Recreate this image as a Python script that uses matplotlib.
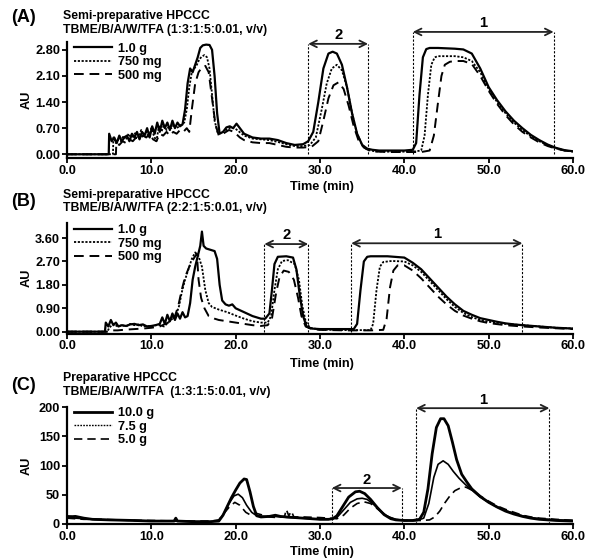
import matplotlib
matplotlib.use("Agg")
import matplotlib.pyplot as plt

plt.rcParams['font.family'] = ['Liberation Sans', 'DejaVu Sans']
plt.rcParams['font.weight'] = 'bold'

# ---------------- Panel A data ----------------
a_t_10 = [0, 4.95, 5.0, 5.3, 5.6, 5.9, 6.2, 6.5, 6.8, 7.1, 7.4, 7.7, 8.0, 8.3, 8.6, 8.9, 9.2, 9.5, 9.8,
          10.1, 10.4, 10.7, 11.0, 11.3, 11.6, 11.9, 12.2, 12.5, 12.8, 13.1, 13.4, 13.7, 14.0, 14.3, 14.6,
          14.9, 15.2, 15.5, 15.8, 16.1, 16.5, 16.9, 17.2, 17.5, 17.8, 18.1, 18.5, 18.9, 19.3, 19.7, 20.1,
          20.5, 21.0, 22.0, 23.0, 24.0, 25.0, 26.0, 27.0, 28.0, 28.6, 29.2, 29.8, 30.4, 31.0, 31.5, 32.0,
          32.6, 33.2, 33.8, 34.4, 35.0, 35.6, 36.2, 37.0, 38.0, 39.0, 40.0, 41.0, 41.4, 41.8, 42.2, 42.6,
          43.0, 44.0, 45.0, 46.0, 47.0, 48.0, 49.0, 50.0, 51.0, 52.0, 53.0, 54.0, 55.0, 56.0, 57.0, 58.0,
          59.0, 60.0]
a_v_10 = [0.0, 0.0, 0.55, 0.35, 0.45, 0.3, 0.5, 0.35, 0.45, 0.5, 0.35, 0.55, 0.45, 0.6, 0.4, 0.6, 0.5, 0.7, 0.45,
          0.75, 0.55, 0.85, 0.6, 0.9, 0.7, 0.85, 0.65, 0.9, 0.7, 0.85, 0.75, 0.8, 1.2, 1.9, 2.3,
          2.2, 2.4, 2.6, 2.85, 2.92, 2.94, 2.93, 2.8, 2.1, 1.1, 0.55, 0.6, 0.72, 0.75, 0.7, 0.82,
          0.7, 0.55, 0.45, 0.42, 0.42, 0.38, 0.3, 0.25, 0.27, 0.35, 0.6, 1.4, 2.3, 2.7, 2.75, 2.7,
          2.4, 1.8, 1.1, 0.55, 0.25, 0.15, 0.12, 0.1, 0.1, 0.1, 0.1, 0.12, 0.3, 1.6, 2.6, 2.82,
          2.85, 2.85, 2.84, 2.83, 2.81, 2.7, 2.3, 1.8, 1.45, 1.15, 0.9, 0.7, 0.52, 0.38, 0.26, 0.17,
          0.11, 0.08]

a_t_75 = [0, 5.45, 5.5, 5.8, 6.1, 6.4, 6.7, 7.0, 7.3, 7.6, 7.9, 8.2, 8.5, 8.8, 9.1, 9.4, 9.7, 10.0, 10.3,
          10.6, 10.9, 11.2, 11.5, 11.8, 12.1, 12.4, 12.7, 13.0, 13.3, 13.6, 13.9, 14.2, 14.5, 14.8, 15.1,
          15.4, 15.7, 16.0, 16.3, 16.6, 16.9, 17.2, 17.5, 17.9, 18.5, 19.4, 20.0, 21.0, 22.0, 23.0, 24.0,
          25.0, 26.0, 27.0, 28.0, 28.8, 29.5, 30.2, 30.8, 31.4, 32.0, 32.6, 33.2, 33.8, 34.4, 35.0, 35.6,
          36.5, 38.0, 40.0, 41.0, 42.0, 42.4, 42.8, 43.2, 43.6, 44.0, 46.0, 47.0, 48.0, 49.0, 50.0, 51.0,
          52.0, 53.0, 54.0, 55.0, 56.0, 57.0, 58.0, 59.0, 60.0]
a_v_75 = [0.0, 0.0, 0.45, 0.3, 0.4, 0.35, 0.5, 0.4, 0.55, 0.45, 0.5, 0.6, 0.45, 0.65, 0.5, 0.6, 0.45, 0.7, 0.5,
          0.35, 0.75, 0.6, 0.8, 0.65, 0.75, 0.7, 0.8, 0.7, 0.75, 0.8, 0.85, 1.2, 1.8, 2.2, 2.3,
          2.4, 2.55, 2.62, 2.66, 2.6, 2.3, 1.6, 0.9, 0.55, 0.6, 0.72, 0.68, 0.5, 0.42, 0.4, 0.38,
          0.33, 0.27, 0.22, 0.22, 0.25, 0.45, 1.2, 1.9, 2.3, 2.4, 2.25, 1.8, 1.1, 0.55, 0.25, 0.12,
          0.08, 0.07, 0.07, 0.07, 0.1, 0.5, 1.6, 2.4, 2.6, 2.63, 2.63, 2.6, 2.5, 2.2, 1.75, 1.4,
          1.1, 0.85, 0.65, 0.48, 0.35, 0.24, 0.16, 0.1, 0.07]

a_t_50 = [0, 5.8, 5.85, 6.2, 6.6, 7.0, 7.4, 7.8, 8.2, 8.6, 9.0, 9.4, 9.8, 10.2, 10.6, 11.0, 11.4, 11.8, 12.2,
          12.6, 13.0, 13.4, 13.8, 14.2, 14.5, 14.8, 15.2, 15.6, 16.0, 16.4, 16.8, 17.2, 17.6, 18.0, 18.5,
          19.2, 19.8, 20.5, 21.0, 22.0, 23.0, 24.0, 25.0, 26.0, 27.0, 28.0, 29.0, 29.8, 30.4, 31.0, 31.6,
          32.2, 32.8, 33.4, 34.0, 34.6, 35.2, 36.0, 38.0, 40.0, 42.0, 43.0, 43.5, 44.0, 44.4, 44.8, 45.4,
          46.0, 47.0, 48.0, 49.0, 50.0, 51.0, 52.0, 53.0, 54.0, 55.0, 56.0, 57.0, 58.0, 59.0, 60.0]
a_v_50 = [0.0, 0.0, 0.3, 0.25, 0.35, 0.3, 0.4, 0.35, 0.45, 0.4, 0.5, 0.45, 0.55, 0.4, 0.35, 0.55, 0.5, 0.6, 0.5,
          0.6, 0.55, 0.65, 0.6, 0.7, 0.6, 1.2, 1.9, 2.2, 2.33, 2.37, 2.2, 1.5, 0.8, 0.5, 0.55,
          0.65, 0.6, 0.45, 0.38, 0.32, 0.3, 0.3, 0.25, 0.2, 0.18, 0.18, 0.2, 0.35, 0.9, 1.5, 1.85,
          1.93, 1.75, 1.3, 0.75, 0.35, 0.18, 0.08, 0.06, 0.06, 0.06, 0.1, 0.5, 1.4, 2.1, 2.4, 2.48,
          2.5, 2.5, 2.42, 2.1, 1.7, 1.35, 1.05, 0.8, 0.6, 0.45, 0.32, 0.22, 0.15, 0.1, 0.07]

# ---------------- Panel B data ----------------
b_t_10 = [0, 4.5, 4.6, 4.9, 5.2, 5.5, 5.8, 6.1, 6.5, 7.0, 7.5, 8.0, 8.5, 9.0, 9.5, 10.0, 10.5, 11.0, 11.3,
          11.6, 11.9, 12.2, 12.5, 12.8, 13.1, 13.4, 13.7, 14.0, 14.3, 14.6, 14.9, 15.2, 15.5, 15.8, 16.0,
          16.2, 16.5, 17.0, 17.5, 17.8, 18.1, 18.4, 18.8, 19.2, 19.6, 20.0, 21.0, 22.0, 23.0, 23.5, 24.0,
          24.3, 24.6, 25.0, 26.0, 26.8, 27.2, 27.6, 28.0, 28.4, 29.0, 30.0, 32.0, 34.0, 34.4, 34.8, 35.2,
          35.6, 36.0, 38.0, 40.0, 41.0, 42.0, 43.0, 44.0, 45.0, 46.0, 47.0, 48.0, 49.0, 50.0, 51.0, 52.0,
          53.0, 54.0, 56.0, 58.0, 60.0]
b_v_10 = [0.0, 0.0, 0.35, 0.2, 0.45, 0.25, 0.35, 0.2, 0.25, 0.22, 0.28, 0.3, 0.25, 0.28, 0.2, 0.22, 0.25, 0.3, 0.55,
          0.3, 0.65, 0.4, 0.7, 0.45, 0.7, 0.5, 0.75, 0.55, 0.6, 1.1, 2.0, 2.5, 2.9, 3.3, 3.85,
          3.3, 3.2, 3.15, 3.1, 2.8, 1.8, 1.2, 1.05, 1.0, 1.05, 0.9, 0.75, 0.6, 0.5, 0.5, 0.7,
          1.6, 2.6, 2.88, 2.9, 2.85, 2.4, 1.4, 0.6, 0.2, 0.12, 0.1, 0.1, 0.1, 0.3, 1.6, 2.7,
          2.88, 2.9, 2.9, 2.85, 2.65, 2.4, 2.05, 1.7, 1.35, 1.05, 0.8, 0.65, 0.52, 0.45, 0.38, 0.32,
          0.28, 0.25, 0.2, 0.15, 0.12]

b_t_75 = [0, 4.8, 5.0, 5.5, 6.0, 6.5, 7.0, 7.5, 8.0, 8.5, 9.0, 9.5, 10.0, 10.5, 11.0, 11.5, 12.0, 12.5, 13.0,
          13.3, 13.6, 14.0, 14.4, 14.8, 15.2, 15.6, 16.0, 16.4, 16.8, 17.2, 18.0, 19.0, 20.0, 21.0, 22.0,
          23.0, 23.8, 24.2, 24.6, 25.0, 25.5, 26.2, 27.0, 27.5, 27.9, 28.3, 28.8, 30.0, 33.0, 36.0, 36.3,
          36.7, 37.1, 37.5, 38.5, 40.0, 41.0, 42.0, 43.0, 44.0, 45.0, 46.0, 47.0, 48.0, 49.0, 50.0, 52.0,
          54.0, 56.0, 58.0, 60.0]
b_v_75 = [0.0, 0.0, 0.15, 0.3, 0.2, 0.25, 0.2, 0.3, 0.25, 0.28, 0.2, 0.22, 0.2, 0.25, 0.25, 0.2, 0.35, 0.5, 0.7,
          1.0, 1.5, 2.0, 2.4, 2.8, 3.05, 2.9, 2.5, 1.6, 1.1, 0.95, 0.85, 0.75, 0.62, 0.5, 0.4,
          0.35, 0.35, 0.6, 1.6, 2.4, 2.72, 2.75, 2.6, 2.0, 1.0, 0.4, 0.15, 0.08, 0.06, 0.06, 0.3,
          1.6, 2.5, 2.68, 2.72, 2.7, 2.55, 2.3, 1.95, 1.6, 1.25, 0.95, 0.72, 0.56, 0.45, 0.38, 0.3,
          0.25, 0.2, 0.15, 0.12]

b_t_50 = [0, 5.0, 5.2, 6.0, 7.0, 8.0, 9.0, 10.0, 11.0, 12.0, 12.8, 13.2, 13.6, 14.0, 14.5, 15.0, 15.4, 15.6,
          15.9, 16.3, 16.8, 17.5, 18.0, 19.0, 20.0, 21.0, 22.0, 23.0, 23.8, 24.3, 24.8, 25.2, 25.7, 26.3,
          26.9, 27.4, 27.8, 28.3, 29.0, 30.0, 33.0, 36.0, 37.5, 37.9, 38.3, 38.7, 39.2, 40.0, 41.0, 42.0,
          43.0, 44.0, 45.0, 46.0, 47.0, 48.0, 49.0, 50.0, 52.0, 54.0, 56.0, 58.0, 60.0]
b_v_50 = [0.0, 0.0, 0.05, 0.05, 0.08, 0.1, 0.12, 0.15, 0.2, 0.35, 0.6, 1.0, 1.6, 2.1, 2.5, 2.8, 3.0, 2.0,
          1.3, 0.9, 0.6, 0.5, 0.45, 0.4, 0.35, 0.3, 0.25, 0.22, 0.25, 0.5, 1.5, 2.1, 2.35, 2.3,
          2.0, 1.3, 0.6, 0.2, 0.1, 0.07, 0.05, 0.05, 0.07, 0.5, 1.7, 2.35, 2.55, 2.55, 2.35, 2.05,
          1.7, 1.35, 1.05, 0.8, 0.62, 0.5, 0.4, 0.33, 0.25, 0.2, 0.16, 0.13, 0.1]

# ---------------- Panel C data ----------------
c_t_10 = [0, 1, 2, 3, 5, 8, 10, 12.7, 12.9, 13.1, 15, 17, 18, 18.5, 19, 19.5, 20, 20.5, 21, 21.3, 21.7,
          22.1, 22.5, 23, 24, 24.7, 25.3, 26, 27, 28, 29, 30, 31, 31.5, 32, 32.7, 33.4, 34.2, 34.7, 35.3,
          36, 36.8, 37.6, 38.4, 39, 40, 41, 41.8, 42.3, 42.8, 43.3, 43.8, 44.3, 44.7, 45.2, 45.7, 46.2,
          46.8, 47.4, 48, 49, 50, 51, 52, 53, 54, 55, 56, 57, 58, 60]
c_v_10 = [12, 13, 10, 8, 7, 6, 5, 5, 10, 5, 4, 4, 5, 15, 30, 45, 58, 70, 77, 76, 55,
          30, 14, 12, 13, 15, 13, 12, 11, 10, 9, 8, 8, 9, 14, 30, 46, 55, 56, 52,
          42, 28, 16, 9, 7, 6, 6, 8, 20, 60, 120, 165, 180, 180, 168, 140, 110,
          85, 72, 60, 47, 37, 29, 22, 17, 13, 10, 8, 7, 6, 5]

c_t_75 = [0, 0.5, 1, 2, 3, 5, 8, 10, 13, 15, 17, 18, 18.6, 19.2, 19.8, 20.3, 20.8, 21.3, 21.9, 22.5, 23.5,
          24.5, 25.5, 26.5, 28, 30, 31, 32, 32.8, 33.6, 34.4, 35, 35.6, 36.4, 37.2, 38, 39, 40, 41.5, 42.3,
          42.9, 43.5, 44, 44.6, 45.2, 45.8, 46.5, 47.2, 48, 49, 50, 51, 52, 53, 54, 55, 56, 58, 60]
c_v_75 = [14, 13, 10, 9, 8, 7, 6, 5, 5, 4, 4, 6, 18, 35, 48, 51, 45, 32, 20, 14, 13,
          13, 12, 11, 10, 8, 8, 11, 24, 37, 43, 44, 42, 33, 22, 13, 8, 6, 6, 10,
          35, 80, 102, 108, 102, 90, 78, 68, 58, 46, 37, 29, 23, 18, 14, 11, 9, 7, 6]

c_t_50 = [0, 1, 2, 4, 6, 8, 10, 13, 15, 17, 18, 18.6, 19.3, 19.9, 20.5, 21.2, 21.8, 22.5, 23, 24, 25,
          25.8, 26, 26.3, 26.6, 26.9, 28, 30, 31, 32, 32.8, 33.6, 34.4, 35.2, 36, 36.8, 37.6, 38.4, 39.2,
          40, 42, 43, 43.6, 44.2, 44.8, 45.4, 46, 46.7, 47.3, 48, 49, 50, 51, 52, 53, 54, 55, 56, 58, 60]
c_v_50 = [10, 9, 8, 8, 7, 6, 6, 5, 5, 5, 7, 18, 30, 37, 32, 20, 15, 18, 16, 12, 11,
          13, 25, 14, 22, 12, 12, 11, 10, 9, 15, 27, 35, 38, 35, 26, 17, 10, 7,
          6, 6, 7, 12, 22, 36, 48, 57, 62, 63, 58, 48, 39, 31, 25, 20, 15, 12, 10, 8, 6]

# fraction-collection brackets: (label, start, end, level)
a_brackets = [("2", 28.6, 35.7, 2.96), ("1", 41.0, 57.7, 3.28)]
b_brackets = [("2", 23.4, 28.6, 3.37), ("1", 33.7, 54.0, 3.40)]
c_brackets = [("2", 31.4, 39.7, 61.5), ("1", 41.4, 57.2, 198.0)]

a_labels = ["1.0 g", "750 mg", "500 mg"]
c_labels = ["10.0 g", "7.5 g", "5.0 g"]
a_yticks = [0.0, 0.7, 1.4, 2.1, 2.8]
b_yticks = [0.0, 0.9, 1.8, 2.7, 3.6]
c_yticks = [0, 50, 100, 150, 200]
x_ticks = [0, 10, 20, 30, 40, 50, 60]

W, H = 599, 559
fig = plt.figure(figsize=(W / 100, H / 100), dpi=100)

FS = 9.2

def px_axes(x0, x1, ytop, ybot):
    return fig.add_axes([x0 / W, 1 - ybot / H, (x1 - x0) / W, (ybot - ytop) / H])

def style_axes(ax, ylim, yticks, yfmt, xlabel_y, ylabel_x):
    ax.set_xlim(0, 60)
    ax.set_ylim(*ylim)
    ax.set_xticks(x_ticks)
    ax.set_xticklabels([f"{v:.1f}" for v in x_ticks])
    ax.set_yticks(yticks)
    ax.set_yticklabels([yfmt.format(v) for v in yticks])
    for s in ["top", "right"]:
        ax.spines[s].set_visible(False)
    for s in ["left", "bottom"]:
        ax.spines[s].set_linewidth(1.6)
    ax.tick_params(axis='both', direction='out', length=3.5, width=1.3, labelsize=FS, pad=1.5)
    for lab in ax.get_xticklabels() + ax.get_yticklabels():
        lab.set_fontweight('bold')
    ax.set_xlabel("Time (min)", fontsize=FS, fontweight='bold')
    ax.set_ylabel("AU", fontsize=FS, fontweight='bold')
    ax.xaxis.set_label_coords(0.504, xlabel_y)
    ax.yaxis.set_label_coords(ylabel_x, 0.5)
    ax.patch.set_visible(False)

def brackets(ax, br, text_off):
    for lab, t0, t1, lev in br:
        for t in (t0, t1):
            ax.plot([t, t], [0, lev], color='black', lw=0.8, ls=(0, (2, 1.5)), clip_on=False)
        ax.annotate("", xy=(t0, lev), xytext=(t1, lev), xycoords='data',
                    arrowprops=dict(arrowstyle='<->', color='#222222', lw=1.3,
                                    shrinkA=0, shrinkB=0, mutation_scale=12),
                    annotation_clip=False)
        ax.text((t0 + t1) / 2, lev + text_off, lab, ha='center', va='bottom',
                fontsize=FS + 1.5, fontweight='bold', clip_on=False)

def legend(ax, handles, labels, ytop):
    ax.legend(handles, labels, loc='upper left', bbox_to_anchor=(0.014, ytop),
              frameon=False, handlelength=3.0, handletextpad=0.45,
              labelspacing=0.12, borderpad=0, borderaxespad=0,
              prop={'weight': 'bold', 'size': FS})

solid = dict(color='black', lw=1.6, ls='-')
dotted = dict(color='black', lw=1.3, ls=(0, (1.2, 0.9)))
dashed = dict(color='black', lw=1.4, ls=(0, (5, 3)))

# Panel A
axA = px_axes(67, 573, 42, 158)
h1, = axA.plot(a_t_10, a_v_10, **solid)
h2, = axA.plot(a_t_75, a_v_75, **dotted)
h3, = axA.plot(a_t_50, a_v_50, **dashed)
style_axes(axA, (-0.1, 3.01), a_yticks, "{:.2f}", -0.20, -0.067)
brackets(axA, a_brackets, 0.04)
legend(axA, [h1, h2, h3], a_labels, 0.995)

# Panel B
axB = px_axes(67, 573, 223, 333.5)
h1, = axB.plot(b_t_10, b_v_10, **solid)
h2, = axB.plot(b_t_75, b_v_75, **dotted)
h3, = axB.plot(b_t_50, b_v_50, **dashed)
style_axes(axB, (-0.07, 4.18), b_yticks, "{:.2f}", -0.225, -0.067)
brackets(axB, b_brackets, 0.08)
legend(axB, [h1, h2, h3], a_labels, 0.99)

# Panel C
axC = px_axes(67, 573, 407, 524)
h1, = axC.plot(c_t_10, c_v_10, color='black', lw=2.0, ls='-')
h2, = axC.plot(c_t_75, c_v_75, color='black', lw=1.2, ls='-')
h3, = axC.plot(c_t_50, c_v_50, color='black', lw=1.2, ls=(0, (5, 3)))
style_axes(axC, (0, 200), c_yticks, "{:d}", -0.19, -0.067)
brackets(axC, c_brackets, 2.5)
lh2 = plt.Line2D([], [], color='black', lw=1.0, ls=(0, (1.2, 0.9)))
legend(axC, [h1, lh2, h3], c_labels, 1.0)

# Panel titles
titles = [("(A)", "Semi-preparative HPCCC", "TBME/B/A/W/TFA (1:3:1:5:0.01, v/v)", 17, 16, 30),
          ("(B)", "Semi-preparative HPCCC", "TBME/B/A/W/TFA (2:2:1:5:0.01, v/v)", 202, 195, 208),
          ("(C)", "Preparative HPCCC", "TBME/B/A/W/TFA  (1:3:1:5:0.01, v/v)", 385, 378, 392)]
for tag, l1, l2, ytag, y1, y2 in titles:
    fig.text(11 / W, 1 - ytag / H, tag, fontsize=13, fontweight='bold', va='center', ha='left')
    fig.text(63 / W, 1 - y1 / H, l1, fontsize=8.8, fontweight='bold', va='center', ha='left')
    fig.text(63 / W, 1 - y2 / H, l2, fontsize=8.8, fontweight='bold', va='center', ha='left')

fig.savefig("out.png", dpi=100)
